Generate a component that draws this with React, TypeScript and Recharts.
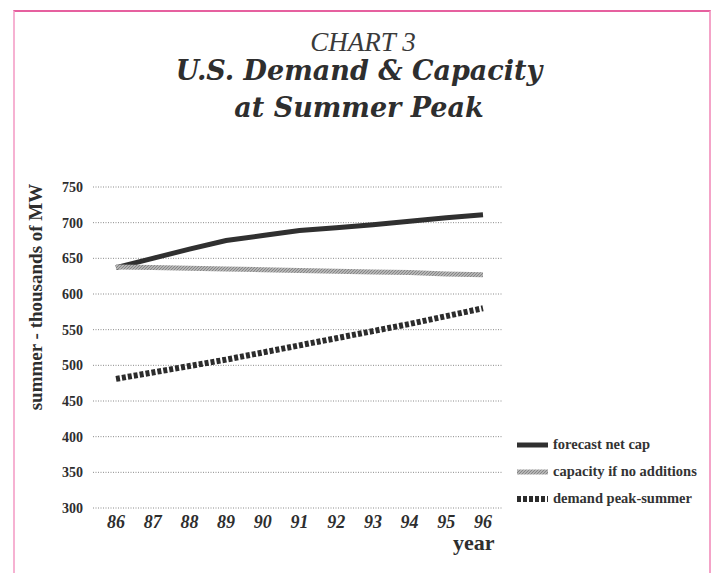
import React from "react";
import { LineChart, Line, XAxis, YAxis, CartesianGrid } from "recharts";

// ---------- Data ----------

const YEARS = ["86", "87", "88", "89", "90", "91", "92", "93", "94", "95", "96"];
const FORECAST_NET_CAP = [637, 650, 663, 675, 682, 689, 693, 697, 702, 707, 711];
const CAPACITY_NO_ADD = [638, 637, 636, 635, 634, 633, 632, 631, 630, 628, 627];
const DEMAND_PEAK = [481, 490, 499, 508, 518, 528, 538, 548, 558, 569, 580];
const Y_TICKS = [300, 350, 400, 450, 500, 550, 600, 650, 700, 750];

const SERIES = [
    { key: "forecast", name: "forecast net cap", color: "#303030", dash: undefined, width: 5 },
    { key: "capacity", name: "capacity if no additions", color: "url(#hatch)", dash: undefined, width: 5 },
    { key: "demand", name: "demand peak-summer", color: "#2c2c2c", dash: "4 2", width: 6 },
];

const chartData = YEARS.map((year, i) => ({
    year,
    forecast: FORECAST_NET_CAP[i],
    capacity: CAPACITY_NO_ADD[i],
    demand: DEMAND_PEAK[i],
}));

const SERIF = '"Liberation Serif", "Times New Roman", serif';

// ---------- Legend (drawn beside the plot, lower right) ----------

function LegendBox() {
    return (
        <div style={{ fontFamily: SERIF, fontWeight: "bold", fontSize: 14.5, color: "#333" }}>
            {SERIES.map((s) => (
                <div key={s.key} style={{ display: "flex", alignItems: "center", height: 27 }}>
                    <svg width={34} height={8} style={{ marginRight: 3 }}>
                        <defs>
                            <pattern id={`lg-hatch-${s.key}`} width="3" height="3" patternUnits="userSpaceOnUse">
                                <rect width="3" height="3" fill="#b4b4b4" />
                                <path d="M0,3 L3,0" stroke="#7a7a7a" strokeWidth="0.8" />
                            </pattern>
                        </defs>
                        <line
                            x1={1}
                            x2={32}
                            y1={4}
                            y2={4}
                            stroke={s.key === "capacity" ? `url(#lg-hatch-${s.key})` : s.color}
                            strokeWidth={s.width}
                            strokeDasharray={s.dash}
                        />
                    </svg>
                    <span>{s.name}</span>
                </div>
            ))}
        </div>
    );
}

// ---------- Chart ----------

const titleLine: React.CSSProperties = {
    position: "absolute",
    left: 0,
    width: 718,
    textAlign: "center",
    fontFamily: '"DejaVu Serif", serif',
    fontStyle: "italic",
    fontWeight: "bold",
    fontSize: 27,
    lineHeight: "30px",
    color: "#2e2e2e",
};

export default function App() {
    return (
        <div style={{ position: "absolute", left: 0, top: 0, width: 712, height: 573, background: "#fff", overflow: "hidden" }}>
            {/* page frame */}
            <div
                style={{
                    position: "absolute",
                    left: 13,
                    top: 10,
                    width: 694,
                    height: 600,
                    borderTop: "2px solid #e6609f",
                    borderLeft: "2px solid #f6b2d2",
                    borderRight: "2px solid #f4a3c8",
                }}
            />
            <div
                style={{
                    position: "absolute",
                    left: 0,
                    top: 29,
                    width: 726,
                    textAlign: "center",
                    fontFamily: SERIF,
                    fontStyle: "italic",
                    fontSize: 27,
                    lineHeight: "27px",
                    color: "#3a3a3a",
                }}
            >
                CHART 3
            </div>
            <div style={{ ...titleLine, top: 56 }}>U.S. Demand &amp; Capacity</div>
            <div style={{ ...titleLine, top: 93 }}>at Summer Peak</div>
            <div
                style={{
                    position: "absolute",
                    left: 36,
                    top: 297,
                    transform: "translate(-50%, -50%) rotate(-90deg)",
                    whiteSpace: "nowrap",
                    fontFamily: SERIF,
                    fontWeight: "bold",
                    fontSize: 19,
                    color: "#2e2e2e",
                }}
            >
                summer - thousands of MW
            </div>
            <div
                style={{
                    position: "absolute",
                    left: 453,
                    top: 533,
                    fontFamily: SERIF,
                    fontWeight: "bold",
                    fontSize: 22,
                    lineHeight: "19px",
                    color: "#2e2e2e",
                }}
            >
                year
            </div>
            <div style={{ position: "absolute", left: 516, top: 431, width: 192 }}>
                <LegendBox />
            </div>
            <div style={{ position: "absolute", left: 0, top: 0 }}>
                <LineChart width={712} height={573} data={chartData} margin={{ top: 187, right: 209, bottom: 35, left: 0 }}>
                    <defs>
                        <pattern id="hatch" width="3" height="3" patternUnits="userSpaceOnUse">
                            <rect width="3" height="3" fill="#b4b4b4" />
                            <path d="M0,3 L3,0" stroke="#7a7a7a" strokeWidth="0.8" />
                        </pattern>
                    </defs>
                    <CartesianGrid vertical={false} stroke="#8a8a8a" strokeDasharray="1 1.5" />
                    <XAxis
                        dataKey="year"
                        height={30}
                        padding={{ left: 23, right: 20 }}
                        axisLine={false}
                        tickLine={false}
                        tickSize={0}
                        tickMargin={7}
                        interval={0}
                        tick={{ fontFamily: SERIF, fontSize: 18, fontWeight: "bold", fontStyle: "italic", fill: "#2e2e2e" }}
                    />
                    <YAxis
                        width={93}
                        domain={[300, 750]}
                        ticks={Y_TICKS}
                        interval={0}
                        axisLine={false}
                        tickLine={false}
                        tickSize={0}
                        tickMargin={10}
                        tick={{ fontFamily: SERIF, fontSize: 14, fontWeight: "bold", fill: "#2e2e2e" }}
                    />
                    {SERIES.map((s) => (
                        <Line
                            key={s.key}
                            dataKey={s.key}
                            name={s.name}
                            type="linear"
                            stroke={s.color}
                            strokeWidth={s.width}
                            strokeDasharray={s.dash}
                            dot={false}
                            activeDot={false}
                            isAnimationActive={false}
                        />
                    ))}
                </LineChart>
            </div>
        </div>
    );
}
